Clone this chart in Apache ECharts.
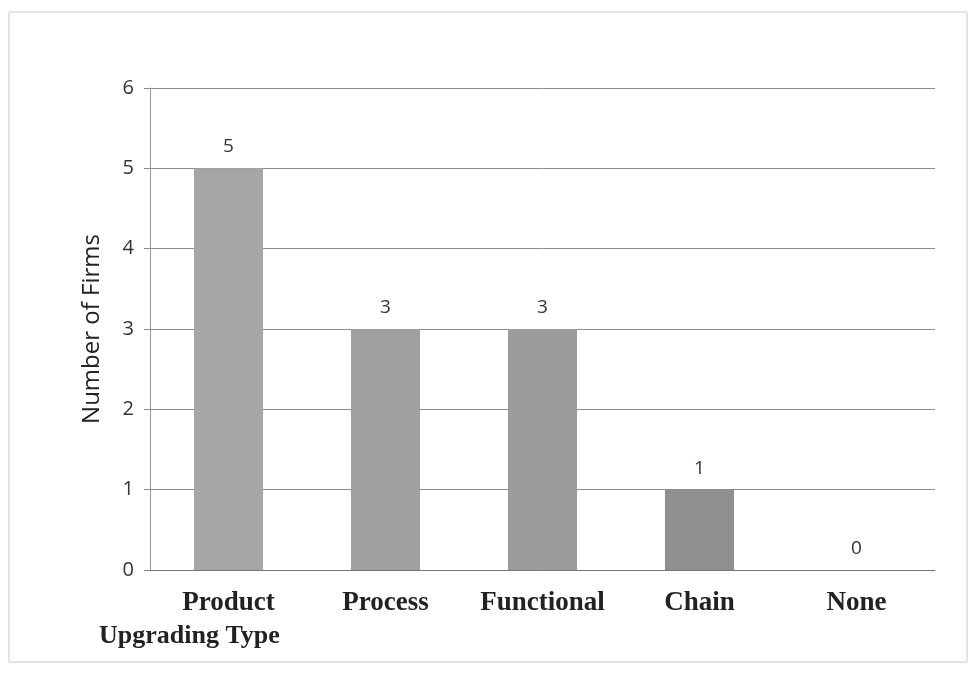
<!DOCTYPE html>
<html><head><meta charset="utf-8">
<script src="https://cdn.jsdelivr.net/npm/echarts@6/dist/echarts.min.js"></script>
<style>html,body{margin:0;padding:0;background:#fff}#c{width:973px;height:674px}</style>
</head><body><div id="c"></div>
<script>
var categories = ['Product', 'Process', 'Functional', 'Chain', 'None'];
var firms = [5, 3, 3, 1, 0];
var yTicks = [0, 1, 2, 3, 4, 5, 6];
var barShades = ['#a6a6a6', '#a0a0a0', '#9c9c9c', '#8f8f8f', '#8f8f8f'];

var chart = echarts.init(document.getElementById('c'));
chart.setOption({
  backgroundColor: '#ffffff',
  animation: false,
  title: {
    text: 'Upgrading Type',
    left: 94, top: 618,
    textStyle: { fontFamily: 'Liberation Serif', fontWeight: 'bold', fontSize: 26, color: '#222' }
  },
  graphic: [{
    type: 'rect', shape: { x: 9, y: 12, width: 958, height: 650 },
    style: { fill: 'none', stroke: '#c8c8c8', lineWidth: 1 }
  }],
  grid: { left: 150, right: 38, top: 88, bottom: 104 },
  xAxis: {
    type: 'category', data: categories,
    axisLine: { show: true, lineStyle: { color: '#777', width: 1 } },
    axisTick: { show: false },
    axisLabel: { interval: 0, hideOverlap: false, margin: 20, fontFamily: 'Liberation Serif', fontWeight: 'bold', fontSize: 27, color: '#222' }
  },
  yAxis: {
    type: 'value', min: 0, max: 6, interval: 1,
    name: 'Number of Firms', nameLocation: 'middle', nameGap: 46,
    nameTextStyle: { fontFamily: 'Open Sans', fontSize: 24, color: '#222' },
    axisLine: { show: true, lineStyle: { color: '#999', width: 1 } },
    axisTick: { show: true, length: 6, lineStyle: { color: '#888' } },
    axisLabel: { margin: 16, fontFamily: 'Open Sans', fontSize: 20, color: '#333',
      formatter: function (v) { return yTicks.indexOf(v) >= 0 ? String(v) : ''; } },
    splitLine: { lineStyle: { color: '#8a8a8a', width: 1 } }
  },
  series: [{
    type: 'bar', barWidth: '44%',
    data: firms.map(function (v, i) { return { value: v, itemStyle: { color: barShades[i] } }; }),
    label: { show: true, position: 'top', distance: 12, fontFamily: 'Open Sans', fontSize: 19, color: '#333' }
  }]
});
</script></body></html>
